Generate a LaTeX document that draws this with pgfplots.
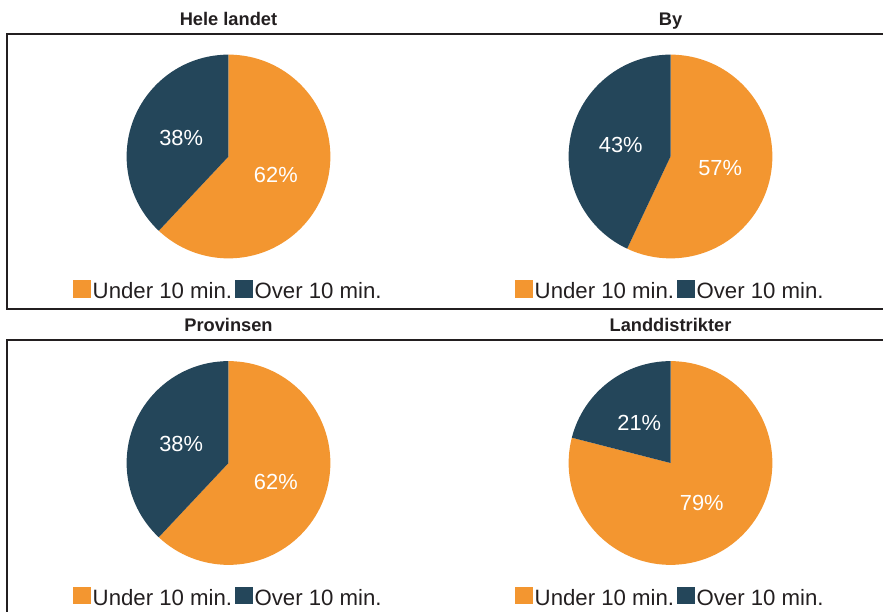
\documentclass[border=0pt]{standalone}
\usepackage{pgfplots}
\pgfplotsset{compat=1.18}
\usepackage{pgfplotstable}
\usepackage{fontspec}
\setmainfont{Liberation Sans}

\definecolor{undercol}{RGB}{243,150,48}
\definecolor{overcol}{RGB}{36,70,90}
\definecolor{textcol}{RGB}{35,31,32}

% one pixel of the original
\def\u{0.2793pt}

% pie centres (px) and shares in percent
\pgfplotstableread{
cx    cy    under over
228.5 156.5 62    38
670.5 156.5 57    43
228.5 463   62    38
670.5 463   79    21
}\pies

\pgfplotsset{
  pie/.style={
    hide axis, scale only axis, width=2cm, height=2cm,
    xmin=-1, xmax=1, ymin=-1, ymax=1, enlargelimits=false, clip=false,
    anchor=center,
    every axis title shift=0pt,
    title style={at={(0.5,1.143)}, anchor=base, inner sep=0pt,
      font=\fontsize{5.1}{6}\selectfont\bfseries, text=textcol},
    legend style={at={(0.5,-0.171)}, anchor=center, draw=none, fill=none,
      legend columns=2, inner sep=0pt, text=textcol,
      font=\fontsize{6.2}{7}\selectfont,
      nodes={inner sep=0.55pt},
      /tikz/every even column/.append style={column sep=0.3pt}},
    legend cell align=left,
    legend image code/.code={\fill[##1] (0pt,-1.1pt) rectangle (4.47pt,3.37pt);},
  }
}

\newcommand\piechart[2]{%
  \pgfplotstablegetelem{#1}{cx}\of\pies\edef\pcx{\pgfplotsretval}%
  \pgfplotstablegetelem{#1}{cy}\of\pies\edef\pcy{\pgfplotsretval}%
  \pgfplotstablegetelem{#1}{under}\of\pies\edef\pu{\pgfplotsretval}%
  \pgfplotstablegetelem{#1}{over}\of\pies\edef\po{\pgfplotsretval}%
  \begin{axis}[pie, at={(\pcx*\u,-\pcy*\u)}, title={#2}]
    \addlegendimage{undercol}\addlegendentry{Under 10 min.}
    \addlegendimage{overcol}\addlegendentry{Over 10 min.}
    \fill[undercol] (axis cs:0,0) -- (axis cs:0,1)
      arc[start angle=90, delta angle={-3.6*\pu}, radius=1] -- cycle;
    \fill[overcol] (axis cs:0,0) -- (axis cs:0,1)
      arc[start angle=90, delta angle={3.6*\po}, radius=1] -- cycle;
    \node[white, font=\fontsize{6.1}{7}\selectfont]
      at (axis cs:{0.5*cos(90-1.8*\pu)},{0.5*sin(90-1.8*\pu)}) {\pu\%};
    \node[white, font=\fontsize{6.1}{7}\selectfont]
      at (axis cs:{0.5*cos(90+1.8*\po)},{0.5*sin(90+1.8*\po)}) {\po\%};
  \end{axis}}

\begin{document}
\begin{tikzpicture}
\useasboundingbox (0,0) rectangle (883*\u,-612*\u);

\begin{scope}[x=\u, y=-\u, line width=2*\u, textcol]
  \draw (890,34) -- (7.5,34) -- (7.5,309.5) -- (890,309.5);
  \draw (890,340) -- (7.5,340) -- (7.5,620);
\end{scope}

\piechart{0}{Hele landet}
\piechart{1}{By}
\piechart{2}{Provinsen}
\piechart{3}{Landdistrikter}
\end{tikzpicture}
\end{document}
